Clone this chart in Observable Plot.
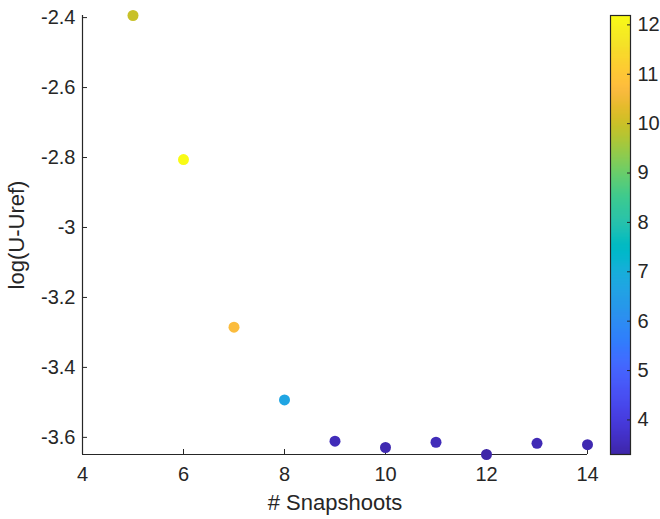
<!DOCTYPE html>
<html>
<head>
<meta charset="utf-8">
<script src="https://cdn.jsdelivr.net/npm/d3@7"></script>
<script src="https://cdn.jsdelivr.net/npm/@observablehq/plot@0.6"></script>
<style>
  html, body { margin: 0; padding: 0; background: #fff; }
  #wrap { position: relative; width: 660px; height: 519px; }
  #main { position: absolute; left: 0; top: 0; }
  #cbar { position: absolute; left: 600px; top: 0; }
</style>
</head>
<body>
<div id="wrap"><div id="main"></div><div id="cbar"></div></div>
<script>
// Data
const snapshots = [5, 6, 7, 8, 9, 10, 11, 12, 13, 14];
const logError  = [-2.394, -2.806, -3.285, -3.493, -3.611, -3.629, -3.614, -3.649, -3.617, -3.621];
const colorVal  = [9.97, 12.19, 10.7, 6.7, 3.5, 3.4, 3.5, 3.30, 3.45, 3.4];

const xTicks = [4, 6, 8, 10, 12, 14];
const yTicks = [-3.6, -3.4, -3.2, -3, -2.8, -2.6, -2.4];
const cTicks = [4, 5, 6, 7, 8, 9, 10, 11, 12];

// MATLAB parula colormap (64 entries)
const parula = [
[0.2422,0.1504,0.6603],[0.2504,0.1650,0.7076],[0.2578,0.1818,0.7511],[0.2647,0.1978,0.7952],
[0.2706,0.2147,0.8364],[0.2751,0.2342,0.8710],[0.2783,0.2559,0.8991],[0.2803,0.2782,0.9221],
[0.2813,0.3006,0.9414],[0.2810,0.3228,0.9579],[0.2795,0.3447,0.9717],[0.2760,0.3667,0.9829],
[0.2699,0.3892,0.9906],[0.2602,0.4123,0.9952],[0.2440,0.4358,0.9988],[0.2206,0.4603,0.9973],
[0.1963,0.4847,0.9892],[0.1834,0.5074,0.9798],[0.1786,0.5289,0.9682],[0.1764,0.5499,0.9520],
[0.1687,0.5703,0.9359],[0.1540,0.5902,0.9218],[0.1460,0.6091,0.9079],[0.1380,0.6276,0.8973],
[0.1248,0.6459,0.8883],[0.1113,0.6635,0.8763],[0.0952,0.6798,0.8598],[0.0689,0.6948,0.8394],
[0.0297,0.7082,0.8163],[0.0036,0.7203,0.7917],[0.0067,0.7312,0.7660],[0.0433,0.7411,0.7394],
[0.0964,0.7500,0.7120],[0.1408,0.7584,0.6842],[0.1717,0.7670,0.6554],[0.1938,0.7758,0.6251],
[0.2161,0.7843,0.5923],[0.2470,0.7918,0.5567],[0.2906,0.7973,0.5188],[0.3406,0.8008,0.4789],
[0.3909,0.8029,0.4354],[0.4456,0.8024,0.3909],[0.5044,0.7993,0.3480],[0.5616,0.7942,0.3045],
[0.6174,0.7876,0.2612],[0.6720,0.7793,0.2227],[0.7242,0.7698,0.1910],[0.7738,0.7598,0.1646],
[0.8203,0.7498,0.1535],[0.8634,0.7406,0.1596],[0.9035,0.7330,0.1774],[0.9393,0.7288,0.2100],
[0.9728,0.7298,0.2394],[0.9956,0.7434,0.2371],[0.9970,0.7659,0.2199],[0.9952,0.7893,0.2028],
[0.9892,0.8136,0.1885],[0.9786,0.8386,0.1766],[0.9676,0.8639,0.1643],[0.9610,0.8890,0.1537],
[0.9597,0.9135,0.1423],[0.9628,0.9373,0.1265],[0.9691,0.9606,0.1064],[0.9769,0.9839,0.0805]
].map(([r,g,b]) => d3.rgb(r*255, g*255, b*255).formatHex());

const interp = d3.piecewise(d3.interpolateRgb, parula);
const cDomain = d3.extent(colorVal);
const colorScale = {type: "linear", domain: cDomain, interpolate: () => interp};

const data = snapshots.map((x, i) => ({x, y: logError[i], c: colorVal[i]}));

const ink = "#262626";
const font = "'Liberation Sans', Arial, Helvetica, sans-serif";
const W = 600, H = 519, mL = 82, mR = 13, mT = 15, mB = 65;
const plotW = W - mL - mR, plotH = H - mT - mB;
const yDomain = d3.extent(logError);

const main = Plot.plot({
  width: W, height: H,
  marginLeft: mL, marginRight: mR, marginTop: mT, marginBottom: mB,
  style: {fontFamily: font, fontSize: "20px", color: ink, background: "#fff"},
  x: {domain: [4, 14]},
  y: {domain: yDomain},
  color: colorScale,
  marks: [
    Plot.axisX({ticks: xTicks, tickSize: 0, tickPadding: 12, tickFormat: d => String(d),
      label: null, fontSize: 20, fill: ink}),
    Plot.axisX({ticks: [], tickSize: 0, label: "# Snapshoots", labelAnchor: "center",
      labelOffset: 55, labelArrow: "none", fontSize: 22, fill: ink}),
    Plot.axisY({ticks: yTicks, tickSize: 0, tickPadding: 7, tickFormat: d => String(d),
      label: null, fontSize: 20, fill: ink}),
    Plot.axisY({ticks: [], tickSize: 0, label: "log(U-Uref)", labelAnchor: "center",
      labelOffset: 74, labelArrow: "none", fontSize: 22, fill: ink}),
    Plot.tickX(xTicks, {x: d => d, stroke: ink, strokeWidth: 1, insetTop: plotH - 5}),
    Plot.tickY(yTicks, {y: d => d, stroke: ink, strokeWidth: 1, insetRight: plotW - 5}),
    Plot.ruleX([4], {stroke: ink, strokeWidth: 1.2}),
    Plot.ruleY([yDomain[0]], {stroke: ink, strokeWidth: 1.2}),
    Plot.dot(data, {x: "x", y: "y", fill: "c", r: 5.5})
  ]
});
document.getElementById("main").appendChild(main);

const cbW = 60, cbL = 10, cbR = 30;
const cbar = Plot.plot({
  width: cbW, height: H,
  marginLeft: cbL, marginRight: cbR, marginTop: mT, marginBottom: mB,
  style: {fontFamily: font, fontSize: "20px", color: ink, background: "transparent"},
  x: {domain: [0, 1], axis: null},
  y: {domain: cDomain},
  color: colorScale,
  marks: [
    Plot.raster({x1: 0, x2: 1, y1: cDomain[0], y2: cDomain[1], width: 1, height: 400,
      fill: (x, y) => y, imageRendering: "auto"}),
    Plot.axisY({anchor: "right", ticks: cTicks, tickSize: 0, tickPadding: 7, label: null,
      tickFormat: d => String(d), fontSize: 20, fill: ink}),
    Plot.tickY(cTicks, {y: d => d, stroke: ink, strokeWidth: 1, insetLeft: cbW - cbL - cbR - 3}),
    Plot.frame({stroke: ink, strokeWidth: 1.2})
  ]
});
document.getElementById("cbar").appendChild(cbar);
</script>
</body>
</html>
